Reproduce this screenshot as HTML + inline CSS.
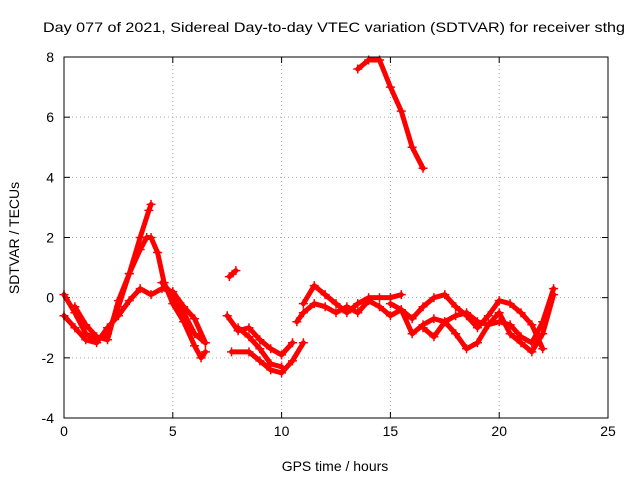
<!DOCTYPE html>
<html><head><meta charset="utf-8">
<style>
body{margin:0;background:#fff;}
svg{display:block;font-family:"Liberation Sans",sans-serif;}
</style></head>
<body>
<svg id="chart" width="640" height="480" viewBox="0 0 640 480" xmlns="http://www.w3.org/2000/svg">
<rect width="640" height="480" fill="#fff"/>
<text x="43" y="32" font-size="14" textLength="582" lengthAdjust="spacingAndGlyphs" fill="#000">Day 077 of 2021, Sidereal Day-to-day VTEC variation (SDTVAR) for receiver sthg</text>
<text x="335" y="471" font-size="14" text-anchor="middle">GPS time / hours</text>
<text transform="translate(19,238) rotate(-90)" font-size="14" text-anchor="middle">SDTVAR / TECUs</text>
<g id="grid"></g><g id="ticks"></g><g id="marks"></g>
<rect x="64" y="57" width="544" height="361" fill="none" stroke="#000" stroke-width="1"/>
</svg>
<script>
const xTicks=[0,5,10,15,20,25];
const yTicks=[-4,-2,0,2,4,6,8];
const trackA=[[0,0.1],[0.5,-0.5],[1,-1.2],[1.5,-1.4],[2,-1.2],[2.5,-0.3],[3,0.8],[3.5,2.0],[3.9,2.9],[4.0,3.1]];
const trackB=[[0,-0.6],[0.5,-1.0],[1,-1.4],[1.5,-1.5],[2,-1.0],[2.5,-0.6],[3,-0.1],[3.5,0.3],[4,0.1],[4.5,0.3],[5,0.2],[5.5,-0.3],[6,-0.7],[6.5,-1.5]];
const trackC=[[0.5,-0.3],[1,-0.9],[1.5,-1.3],[2,-1.4],[2.5,-0.1],[3,0.8],[3.5,1.6],[3.8,2.0],[4,2.0],[4.3,1.5],[4.6,0.5],[5,-0.2],[5.5,-0.8],[6,-1.6],[6.3,-2.0],[6.5,-1.8]];
const trackD=[[4.5,0.5],[5,0.1],[5.5,-0.5],[6,-1.2],[6.5,-1.5]];
const trackS=[[7.6,0.7],[7.9,0.9]];
const trackE=[[7.5,-0.6],[8,-1.1],[8.5,-1.0],[9,-1.4],[9.5,-1.7],[10,-1.9],[10.5,-1.5]];
const trackF=[[7.7,-1.8],[8.5,-1.8],[9,-2.1],[9.5,-2.4],[10,-2.5],[10.5,-2.1],[11,-1.5]];
const trackG=[[8,-1.0],[8.5,-1.3],[9,-1.7],[9.5,-2.2],[10,-2.3]];
const trackH=[[10.7,-0.8],[11,-0.5],[11.5,-0.2],[12,-0.3],[12.5,-0.5],[13,-0.3],[13.5,-0.5],[14,-0.1],[14.5,-0.3],[15,-0.6],[15.5,-0.4],[16,-1.2],[16.5,-0.9],[17,-0.7],[17.5,-0.8],[18,-0.6],[18.5,-0.5],[19,-0.8],[19.5,-0.9],[20,-0.8],[20.5,-0.9],[21,-1.3],[21.5,-1.5],[22,-0.8],[22.5,0.3]];
const trackI=[[11,-0.2],[11.5,0.4],[12,0.1],[12.5,-0.2],[13,-0.5],[13.5,-0.2],[14,0.0],[14.5,0.0],[15,0.0],[15.5,0.1]];
const trackJ=[[15,-0.2],[15.5,-0.4],[16,-0.7],[16.5,-0.3],[17,0.0],[17.5,0.1],[18,-0.3],[18.5,-0.6],[19,-1.0],[19.5,-0.6],[20,-0.1],[20.5,-0.2],[21,-0.5],[21.5,-0.9],[22,-1.7]];
const trackK=[[16.5,-1.0],[17,-1.3],[17.5,-0.8],[18,-1.2],[18.5,-1.7],[19,-1.5],[19.5,-0.9],[20,-0.5],[20.5,-1.2],[21,-1.5],[21.5,-1.8],[22,-1.2],[22.5,0.1]];
const trackL=[[13.5,7.6],[14,7.9],[14.5,7.9],[15,7.0],[15.5,6.2],[16,5.0],[16.5,4.3]];
const tracks=[trackA,trackB,trackC,trackD,trackS,trackE,trackF,trackG,trackH,trackI,trackJ,trackK,trackL];

const X0=64,X1=608,Y0=418,Y1=57;
const xs=v=>X0+(v-0)/(25-0)*(X1-X0);
const ys=v=>Y0-(v+4)/(8+4)*(Y0-Y1);
const NS="http://www.w3.org/2000/svg";
const grid=document.getElementById('grid'),ticks=document.getElementById('ticks'),marks=document.getElementById('marks');
function mk(tag,attrs,parent){const e=document.createElementNS(NS,tag);for(const k in attrs)e.setAttribute(k,attrs[k]);parent.appendChild(e);return e;}
xTicks.forEach(t=>{
  const x=xs(t);
  if(t>0&&t<25){const g=mk('line',{x1:x,x2:x,y1:Y1,y2:Y0,stroke:'#aaa','stroke-dasharray':'1,3'},grid);
  
  }
  mk('line',{x1:x,x2:x,y1:Y0,y2:Y0-6,stroke:'#000'},ticks);
  mk('line',{x1:x,x2:x,y1:Y1,y2:Y1+6,stroke:'#000'},ticks);
  const l=mk('text',{x:x,y:Y0+18,'font-size':14,'text-anchor':'middle'},ticks);l.textContent=t;
  
  
});
yTicks.forEach(t=>{
  const y=ys(t);
  if(t>-4&&t<8){const g=mk('line',{x1:X0,x2:X1,y1:y,y2:y,stroke:'#aaa','stroke-dasharray':'1,3'},grid);
  
  }
  mk('line',{x1:X0,x2:X0+6,y1:y,y2:y,stroke:'#000'},ticks);
  mk('line',{x1:X1,x2:X1-6,y1:y,y2:y,stroke:'#000'},ticks);
  const l=mk('text',{x:X0-10,y:y+5,'font-size':14,'text-anchor':'end'},ticks);l.textContent=t;
  
  
});
tracks.forEach(tr=>{
  const p=mk('polyline',{points:tr.map(d=>xs(d[0])+','+ys(d[1])).join(' '),fill:'none',stroke:'#f00','stroke-width':5,'stroke-linejoin':'round','stroke-linecap':'round'},marks);
  
  
  tr.forEach(d=>{
    const m=mk('path',{d:`M${xs(d[0])-4.5},${ys(d[1])}h9M${xs(d[0])},${ys(d[1])-4.5}v9`,stroke:'#f00','stroke-width':1.5},marks);
    
    
  });
});
</script>
</body></html>
